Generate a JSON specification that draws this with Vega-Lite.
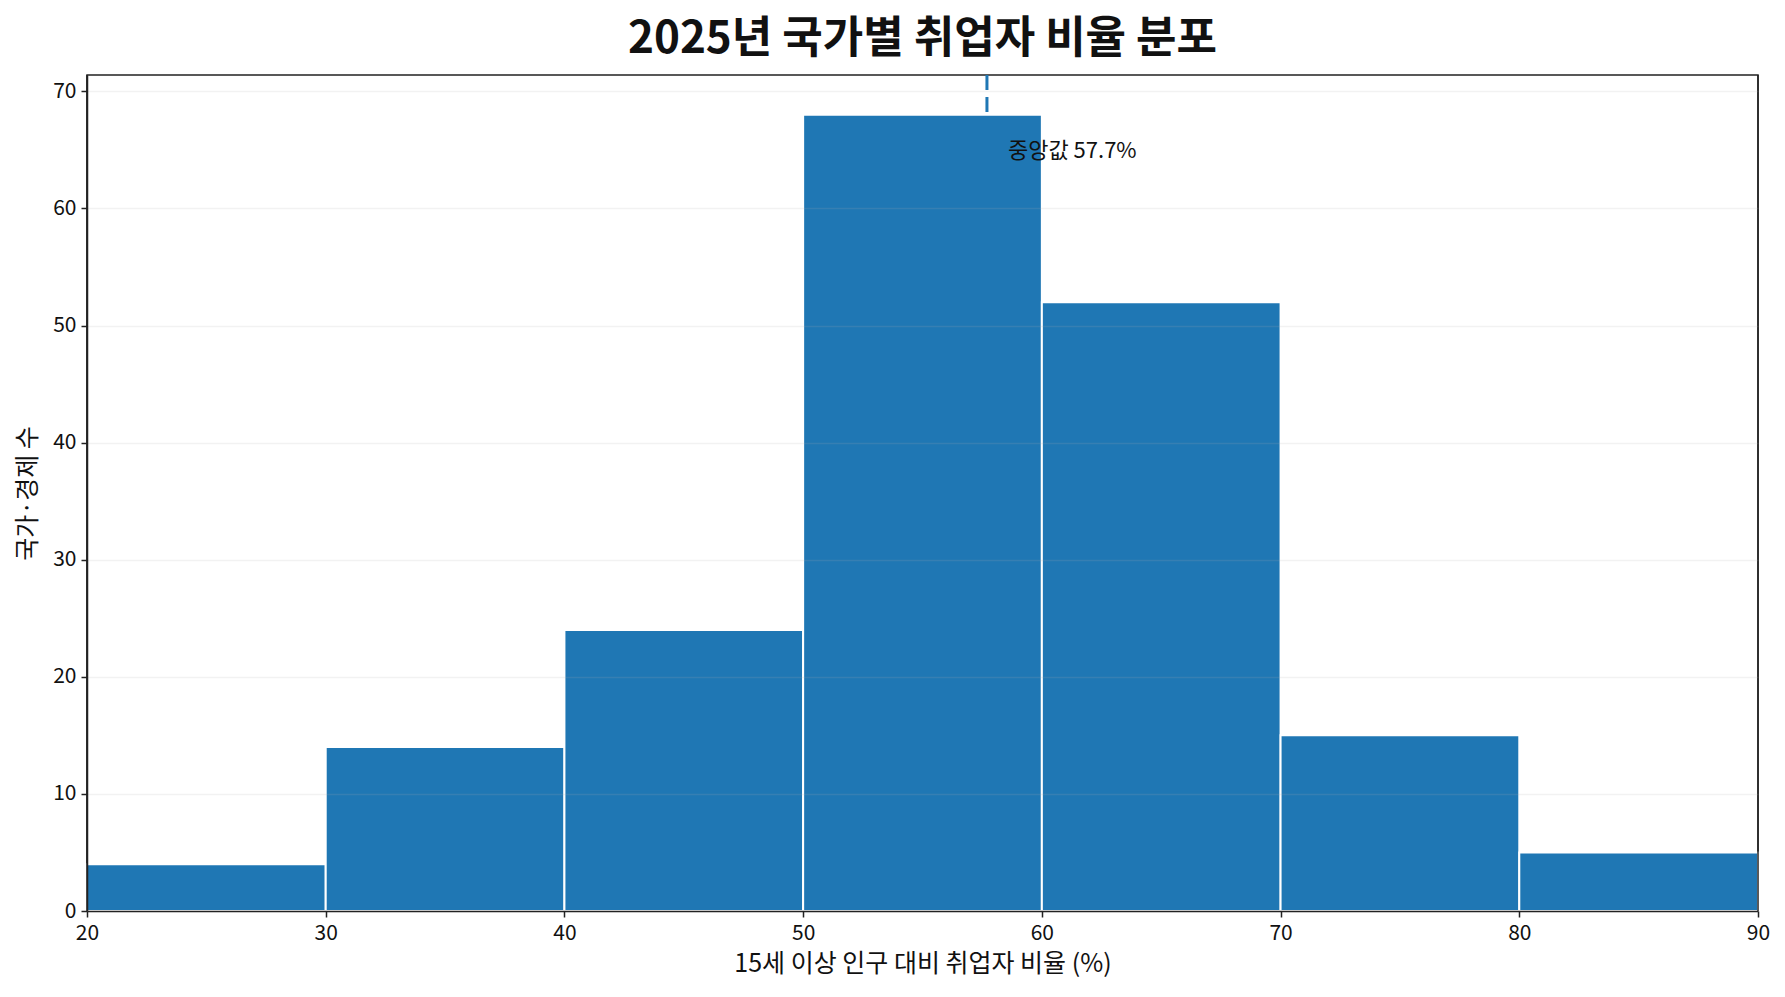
{
  "$schema": "https://vega.github.io/schema/vega-lite/v6.json",
  "description": "2025 employment-to-population ratio histogram",
  "autosize": "none",
  "width": 1671,
  "height": 836,
  "padding": {"left": 87, "top": 75, "right": 27, "bottom": 86},
  "background": "white",
  "config": {
    "font": "Noto Sans CJK KR",
    "view": {"stroke": "#222222", "strokeWidth": 1.5},
    "axis": {
      "labelFont": "Noto Sans CJK KR",
      "titleFont": "Noto Sans CJK KR",
      "labelFontSize": 21,
      "titleFontSize": 25,
      "labelColor": "#111111",
      "titleColor": "#111111",
      "titleFontWeight": "normal",
      "domain": true,
      "domainColor": "#222222",
      "domainWidth": 1.5,
      "tickColor": "#222222",
      "tickWidth": 1.5,
      "tickSize": 6,
      "labelFlush": false
    }
  },
  "title": {
    "text": "2025년 국가별 취업자 비율 분포",
    "font": "Noto Sans CJK KR",
    "fontSize": 44,
    "fontWeight": "bold",
    "color": "#111111",
    "anchor": "middle",
    "offset": 12
  },
  "datasets": {
    "bins": [
      {"bin_start": 20, "bin_end": 30, "count": 4},
      {"bin_start": 30, "bin_end": 40, "count": 14},
      {"bin_start": 40, "bin_end": 50, "count": 24},
      {"bin_start": 50, "bin_end": 60, "count": 68},
      {"bin_start": 60, "bin_end": 70, "count": 52},
      {"bin_start": 70, "bin_end": 80, "count": 15},
      {"bin_start": 80, "bin_end": 90, "count": 5}
    ],
    "median": [
      {"median": 57.7, "label_y": 64.9, "label": "중앙값 57.7%"}
    ],
    "frame": [
      {"edge": 20},
      {"edge": 90}
    ]
  },
  "layer": [
    {
      "data": {"name": "median"},
      "mark": {"type": "rule", "color": "#1f77b4", "strokeWidth": 3, "strokeDash": [15, 7]},
      "encoding": {
        "x": {"field": "median", "type": "quantitative"}
      }
    },
    {
      "data": {"name": "bins"},
      "mark": {"type": "rect", "color": "#1f77b4", "opacity": 1, "stroke": "white", "strokeWidth": 2},
      "encoding": {
        "x": {
          "field": "bin_start",
          "type": "quantitative",
          "scale": {"domain": [20, 90], "nice": false, "zero": false},
          "axis": {
            "values": [20, 30, 40, 50, 60, 70, 80, 90],
            "grid": false,
            "domain": true,
            "zindex": 1,
            "labelPadding": 5,
            "titlePadding": 8
          },
          "title": "15세 이상 인구 대비 취업자 비율 (%)"
        },
        "x2": {"field": "bin_end"},
        "y": {
          "field": "count",
          "type": "quantitative",
          "scale": {"domain": [0, 71.4], "nice": false},
          "axis": {
            "values": [0, 10, 20, 30, 40, 50, 60, 70],
            "grid": true,
            "domain": true,
            "zindex": 1,
            "gridColor": "#b0b0b0",
            "gridOpacity": 0.16,
            "gridWidth": 1.5,
            "labelPadding": 5,
            "titlePadding": 12
          },
          "title": "국가·경제 수"
        },
        "y2": {"datum": 0}
      }
    },
    {
      "data": {"name": "frame"},
      "mark": {"type": "rule", "color": "#222222", "strokeWidth": 1.5},
      "encoding": {
        "x": {"field": "edge", "type": "quantitative"}
      }
    },
    {
      "data": {"name": "median"},
      "mark": {"type": "text", "align": "left", "baseline": "middle", "dx": 21, "fontSize": 22, "color": "#111111"},
      "encoding": {
        "x": {"field": "median", "type": "quantitative"},
        "y": {"field": "label_y", "type": "quantitative"},
        "text": {"field": "label"}
      }
    }
  ]
}
